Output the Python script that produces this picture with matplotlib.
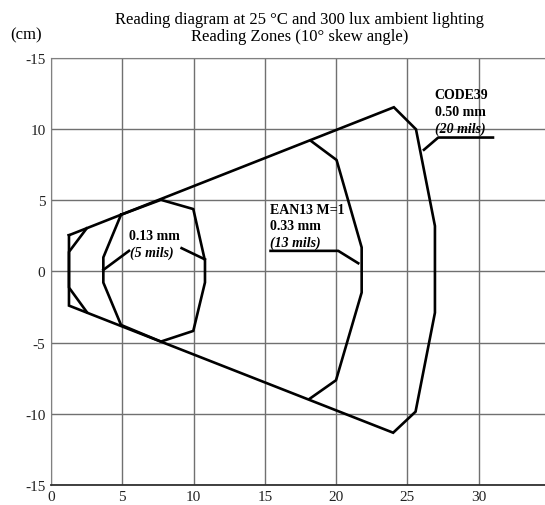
import matplotlib
matplotlib.use('Agg')
from matplotlib import pyplot as plt

plt.rcParams['font.family'] = ['Liberation Serif', 'DejaVu Serif']

# reading zones (cm): x = distance, y = lateral offset
code39_x = [1.26, 24.05, 25.6, 26.93, 26.93, 25.57, 24.0, 1.26, 1.26]
code39_y = [2.55, 11.55, 10.0, 3.2, -2.9, -9.86, -11.34, -2.4, 2.55]

ean13_left_x = [2.5, 1.26, 1.26, 2.5]
ean13_left_y = [3.03, 1.38, -1.13, -2.84]
ean13_right_x = [18.21, 20.03, 21.79, 21.79, 19.99, 18.16]
ean13_right_y = [9.2, 7.84, 1.69, -1.48, -7.65, -8.94]

mil5_x = [4.91, 7.71, 9.98, 10.8, 10.8, 9.98, 7.71, 4.91, 3.67, 3.67, 4.91]
mil5_y = [3.99, 5.04, 4.39, 0.75, -0.77, -4.18, -4.93, -3.76, -0.78, 0.99, 3.99]

x_ticks = [0, 5, 10, 15, 20, 25, 30]
y_ticks = [15, 10, 5, 0, -5, -10, -15]
y_tick_labels = ['-15', '10', '5', '0', '-5', '-10', '-15']

fig = plt.figure(figsize=(5.45, 5.06), dpi=100)
ax = fig.add_axes([0.0936, 0.040, 0.9064, 0.843])

lw = 1.9
ax.plot(code39_x, code39_y, color='black', lw=lw, solid_joinstyle='miter')
ax.plot(ean13_left_x, ean13_left_y, color='black', lw=lw)
ax.plot(ean13_right_x, ean13_right_y, color='black', lw=lw)
ax.plot(mil5_x, mil5_y, color='black', lw=lw)

# leader lines
ax.plot([5.47, 3.67], [1.45, 0.11], color='black', lw=lw)
ax.plot([9.16, 10.8], [1.64, 0.85], color='black', lw=lw)
ax.plot([15.4, 20.15, 21.55], [1.45, 1.45, 0.58], color='black', lw=lw)
ax.plot([31.0, 27.16, 26.16], [9.42, 9.42, 8.56], color='black', lw=lw)

# labels
fs = 10
ax.text(7.25, 2.5, '0.13 mm', fontsize=fs, fontweight='bold', va='center', ha='center')
ax.text(7.05, 1.38, '(5 mils)', fontsize=fs, fontweight='bold', style='italic',
        va='center', ha='center')
ax.text(15.36, 4.34, 'EAN13 M=1', fontsize=fs, fontweight='bold', va='center')
ax.text(15.36, 3.22, '0.33 mm', fontsize=fs, fontweight='bold', va='center')
ax.text(15.36, 2.08, '(13 mils)', fontsize=fs, fontweight='bold', style='italic', va='center')
ax.text(26.9, 12.42, 'CODE39', fontsize=fs, fontweight='bold', va='center')
ax.text(26.9, 11.27, '0.50 mm', fontsize=fs, fontweight='bold', va='center')
ax.text(26.9, 10.09, '(20 mils)', fontsize=fs, fontweight='bold', style='italic', va='center')

ax.set_xlim(0, 34.65)
ax.set_ylim(-15, 15)
ax.set_xticks(x_ticks)
ax.set_yticks(y_ticks)
ax.set_yticklabels(y_tick_labels)
ax.tick_params(length=0, labelsize=11, pad=4, labelcolor='#222222')
ax.grid(True, color='#707070', lw=1.0)
ax.set_axisbelow(True)

for side in ['left', 'top']:
    ax.spines[side].set_color('#808080')
ax.spines['right'].set_visible(False)
ax.spines['bottom'].set_color('#303030')
ax.spines['bottom'].set_linewidth(1.3)

fig.text(0.55, 0.961, 'Reading diagram at 25 °C and 300 lux ambient lighting',
         fontsize=12, ha='center', va='center')
fig.text(0.55, 0.927, 'Reading Zones (10° skew angle)', fontsize=12,
         ha='center', va='center')
fig.text(0.019, 0.931, '(cm)', fontsize=12, ha='left', va='center')

fig.savefig('out.png', dpi=100)
